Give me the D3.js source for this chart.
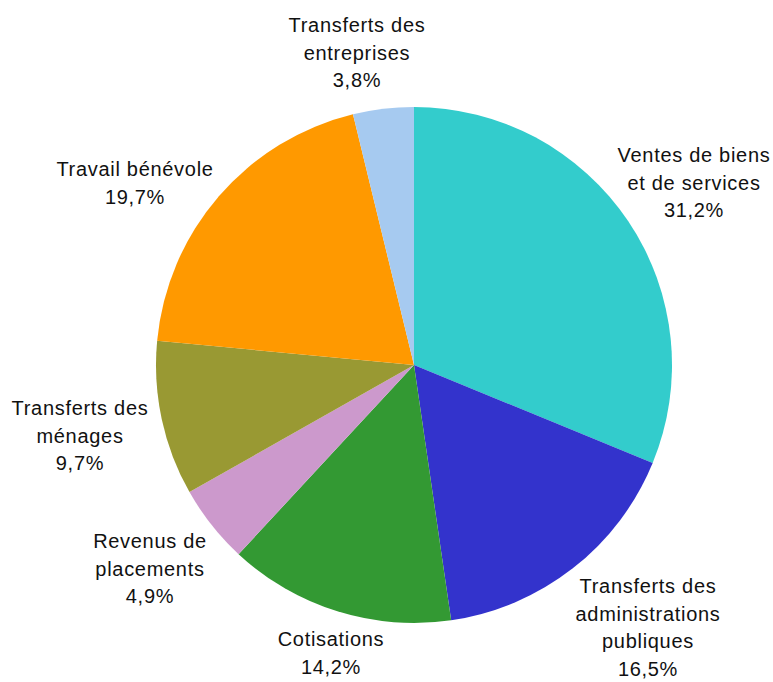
<!DOCTYPE html>
<html><head><meta charset="utf-8">
<script src="https://cdn.jsdelivr.net/npm/d3@7"></script>
<style>
html,body{margin:0;padding:0;background:#fff;}
svg text{font-family:"Liberation Sans",Arial,sans-serif;font-size:20px;fill:#111;letter-spacing:0.7px;}
</style></head>
<body>
<svg id="chart" width="773" height="682"></svg>
<script>
const categories = ["Ventes de biens et de services","Transferts des administrations publiques","Cotisations","Revenus de placements","Transferts des ménages","Travail bénévole","Transferts des entreprises"];
const values = [31.2,16.5,14.2,4.9,9.7,19.7,3.8];
const labelLines = [["Ventes de biens","et de services","31,2%"],["Transferts des","administrations","publiques","16,5%"],["Cotisations","14,2%"],["Revenus de","placements","4,9%"],["Transferts des","ménages","9,7%"],["Travail bénévole","19,7%"],["Transferts des","entreprises","3,8%"]];
const colors = ["#33CCCC","#3333CC","#339933","#CC99CC","#999933","#FF9900","#A6CAF0"];

// layout (label anchor: center x, first baseline y)
const cx = 414, cy = 365, R = 258, lineH = 27.5;
const labelAnchor = [[694,162],[648,593],[331,646],[150,548],[80,415],[135,176],[357,32]];

const svg = d3.select("#chart");
const pie = d3.pie().sort(null).value(d=>d)(values);
const arc = d3.arc().innerRadius(0).outerRadius(R);
const g = svg.append("g").attr("transform",`translate(${cx},${cy})`);
g.selectAll("path").data(pie).join("path")
  .attr("d",arc).attr("fill",(d,i)=>colors[i]);

const lab = svg.selectAll("text.lbl").data(labelLines).join("text")
  .attr("class","lbl").attr("text-anchor","middle")
  .attr("x",(d,i)=>labelAnchor[i][0]).attr("y",(d,i)=>labelAnchor[i][1]);
lab.selectAll("tspan").data(d=>d).join("tspan")
  .attr("x",function(){return this.parentNode.getAttribute("x");})
  .attr("dy",(d,j)=>j===0?0:lineH).text(d=>d);
</script>
</body></html>
